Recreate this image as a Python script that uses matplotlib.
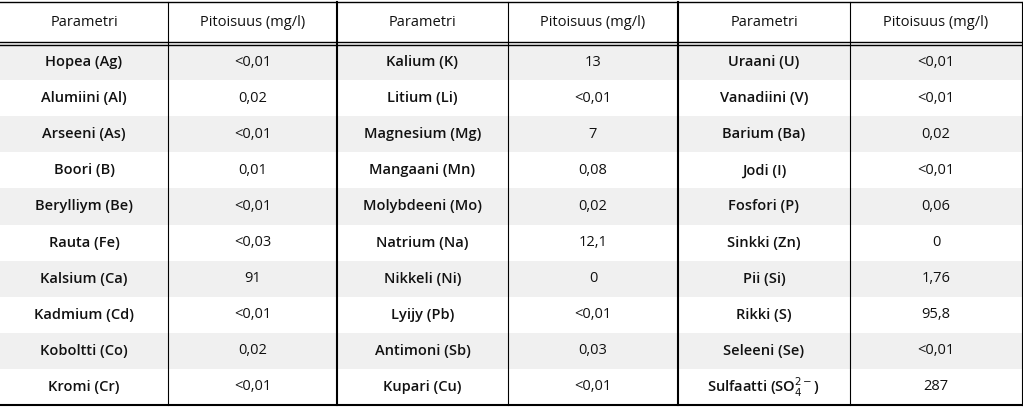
import matplotlib
matplotlib.use("Agg")
import matplotlib.pyplot as plt

headers = ["Parametri", "Pitoisuus (mg/l)"] * 3
params1 = ["Hopea (Ag)", "Alumiini (Al)", "Arseeni (As)", "Boori (B)", "Berylliym (Be)",
           "Rauta (Fe)", "Kalsium (Ca)", "Kadmium (Cd)", "Koboltti (Co)", "Kromi (Cr)"]
values1 = ["<0,01", "0,02", "<0,01", "0,01", "<0,01", "<0,03", "91", "<0,01", "0,02", "<0,01"]
params2 = ["Kalium (K)", "Litium (Li)", "Magnesium (Mg)", "Mangaani (Mn)", "Molybdeeni (Mo)",
           "Natrium (Na)", "Nikkeli (Ni)", "Lyijy (Pb)", "Antimoni (Sb)", "Kupari (Cu)"]
values2 = ["13", "<0,01", "7", "0,08", "0,02", "12,1", "0", "<0,01", "0,03", "<0,01"]
params3 = ["Uraani (U)", "Vanadiini (V)", "Barium (Ba)", "Jodi (I)", "Fosfori (P)",
           "Sinkki (Zn)", "Pii (Si)", "Rikki (S)", "Seleeni (Se)", r"Sulfaatti (SO$_4^{2-}$)"]
values3 = ["<0,01", "<0,01", "0,02", "<0,01", "0,06", "0", "1,76", "95,8", "<0,01", "287"]

W, H = 1023, 407
fig = plt.figure(figsize=(W/100, H/100), dpi=100)
ax = fig.add_axes([0, 0, 1, 1])
ax.set_xlim(0, W); ax.set_ylim(H, 0); ax.axis("off")

xs = [0, 168, 337, 508, 678, 850, 1022]
top, hdr_bot = 2, 42
row_h = (405 - 44) / 10
font = "Open Sans"

for i in range(10):
    y0 = 44 + i * row_h
    if i % 2 == 0:
        ax.add_patch(plt.Rectangle((0, y0), W, row_h, color="#f0f0f0", lw=0))

for j, h in enumerate(headers):
    ax.text((xs[j]+xs[j+1])/2, (top+hdr_bot)/2, h, ha="center", va="center",
            fontsize=10.5, family=font, weight="medium", color="#111111")

cols = [params1, values1, params2, values2, params3, values3]
for j, col in enumerate(cols):
    for i, t in enumerate(col):
        y = 44 + (i + 0.5) * row_h
        ax.text((xs[j]+xs[j+1])/2, y, t, ha="center", va="center", fontsize=10.5,
                family=font, weight="semibold" if j % 2 == 0 else "normal", color="#111111")

# lines
ax.plot([0, W], [top, top], color="black", lw=1)
ax.plot([0, W], [hdr_bot, hdr_bot], color="black", lw=1)
ax.plot([0, W], [hdr_bot+2.5, hdr_bot+2.5], color="black", lw=1)
ax.plot([0, W], [405, 405], color="black", lw=1.5)
for k, x in enumerate(xs[1:-1], start=1):
    ax.plot([x, x], [top, 405], color="black", lw=1.5 if k % 2 == 0 else 0.8)
ax.plot([1022, 1022], [top, 405], color="black", lw=0.8)

fig.savefig("out.png", dpi=100)
